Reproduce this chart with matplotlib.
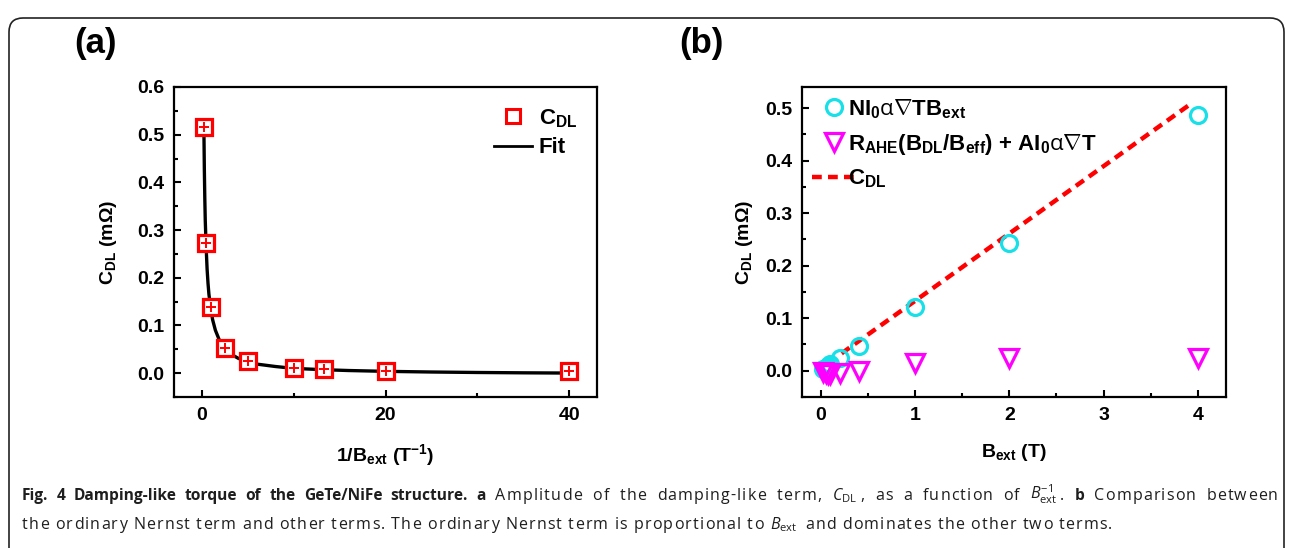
import matplotlib
matplotlib.use('Agg')
import matplotlib.pyplot as plt
from matplotlib.patches import FancyBboxPatch
from matplotlib.transforms import IdentityTransform
from matplotlib.ticker import MultipleLocator

# panel (a): C_DL against 1/B_ext
inv_b = [0.25, 0.5, 1, 2.5, 5, 10, 13.33, 20, 40]
c_dl = [0.517, 0.272, 0.139, 0.053, 0.025, 0.011, 0.008, 0.004, 0.005]
fit_x = [0.25, 0.3, 0.35, 0.4, 0.5, 0.6, 0.7, 0.8, 1.0, 1.2, 1.5, 2.0, 2.5,
         3.0, 4.0, 5.0, 6.0, 8.0, 10, 13.3, 16, 20, 25, 30, 35, 40]
fit_y = [0.513, 0.427, 0.366, 0.320, 0.262, 0.218, 0.188, 0.165, 0.135, 0.112,
         0.090, 0.066, 0.052, 0.042, 0.031, 0.024, 0.019, 0.014, 0.010, 0.0072,
         0.0055, 0.0038, 0.0024, 0.0014, 0.0007, 0.0002]

# panel (b): terms against B_ext
b_ext = [0.025, 0.05, 0.075, 0.1, 0.2, 0.4, 1, 2, 4]
nernst = [0.003, 0.006, 0.009, 0.013, 0.025, 0.048, 0.121, 0.244, 0.487]
other = [-0.002, -0.005, -0.007, -0.006, -0.004, 0.0, 0.014, 0.024, 0.024]
cdl_x = [0.22, 3.95]
cdl_y = [0.033, 0.511]

plt.rcParams['font.family'] = ['Liberation Sans', 'DejaVu Sans']
plt.rcParams['font.weight'] = 'bold'
plt.rcParams['axes.labelweight'] = 'bold'
plt.rcParams['mathtext.fontset'] = 'custom'
plt.rcParams['mathtext.bf'] = 'Liberation Sans:bold'
plt.rcParams['mathtext.rm'] = 'Open Sans:weight=normal'
plt.rcParams['mathtext.it'] = 'Open Sans:style=italic:weight=normal'

fig = plt.figure(figsize=(12.92, 5.48), dpi=100)
W, H = 1292, 548

border = FancyBboxPatch((9, -40), 1275, 548 - 9 + 40 - 9,
                        boxstyle='round,pad=0,rounding_size=14',
                        transform=IdentityTransform(), fill=False,
                        edgecolor='#222222', linewidth=1.2)
fig.add_artist(border)

axa = fig.add_axes([174 / W, 1 - 397 / H, 423 / W, 310 / H])
axb = fig.add_axes([802 / W, 1 - 397 / H, 424 / W, 310 / H])

red = '#FF0000'
axa.plot(fit_x, fit_y, color='black', lw=2.4, zorder=2)
axa.plot(inv_b, c_dl, ls='none', marker='s', ms=11, mfc='white', mec=red,
         mew=2.3, zorder=3)
axa.plot(inv_b, c_dl, ls='none', marker='+', ms=6.5, mec=red, mew=1.4, zorder=4)
sq, = axa.plot([], [], ls='none', marker='s', ms=10, mfc='none', mec=red, mew=2.2)
ln, = axa.plot([], [], color='black', lw=2.0)
axa.legend([sq, ln], [r'C$_\mathbf{DL}$', 'Fit'], loc='upper right',
           frameon=False, fontsize=16, handlelength=1.7, handletextpad=0.3,
           labelspacing=0.35, borderaxespad=0.5)
axa.set_xlim(-3, 43)
axa.set_ylim(-0.05, 0.6)
axa.xaxis.set_major_locator(MultipleLocator(20))
axa.xaxis.set_minor_locator(MultipleLocator(10))
axa.yaxis.set_major_locator(MultipleLocator(0.1))
axa.yaxis.set_minor_locator(MultipleLocator(0.05))
axa.yaxis.set_major_formatter(plt.FormatStrFormatter('%.1f'))
axa.set_xlabel(r'1/B$_\mathbf{ext}$ (T$^\mathbf{-1}$)', fontsize=14, labelpad=13)
axa.set_ylabel(r'C$_\mathbf{DL}$ (m$\mathbf{\Omega}$)', fontsize=14, labelpad=13)

axb.plot(cdl_x, cdl_y, color=red, ls=(0, (2.2, 1.4)), lw=3.2, zorder=2,
         label=r'C$_\mathbf{DL}$')
axb.plot(b_ext, nernst, ls='none', marker='o', ms=11.5, mfc='none', mec='#18E0E8',
         mew=2.3, zorder=3,
         label=r'NI$_\mathbf{0}\mathrm{\alpha\nabla}$TB$_\mathbf{ext}$')
axb.plot(b_ext, other, ls='none', marker='v', ms=13, mfc='none', mec='#FF00FF',
         mew=2.3, zorder=3,
         label=r'R$_\mathbf{AHE}$(B$_\mathbf{DL}$/B$_\mathbf{eff}$) + AI$_\mathbf{0}\mathrm{\alpha\nabla}$T')
h, l = axb.get_legend_handles_labels()
axb.legend([h[1], h[2], h[0]], [l[1], l[2], l[0]], loc='upper left',
           frameon=False, fontsize=16, handlelength=2.0, handletextpad=-0.4,
           labelspacing=0.5, borderaxespad=0.05)
axb.set_xlim(-0.2, 4.3)
axb.set_ylim(-0.05, 0.54)
axb.xaxis.set_major_locator(MultipleLocator(1))
axb.xaxis.set_minor_locator(MultipleLocator(0.5))
axb.yaxis.set_major_locator(MultipleLocator(0.1))
axb.yaxis.set_minor_locator(MultipleLocator(0.05))
axb.yaxis.set_major_formatter(plt.FormatStrFormatter('%.1f'))
axb.set_xlabel(r'B$_\mathbf{ext}$ (T)', fontsize=14, labelpad=13)
axb.set_ylabel(r'C$_\mathbf{DL}$ (m$\mathbf{\Omega}$)', fontsize=14, labelpad=7)

for ax in (axa, axb):
    for s in ax.spines.values():
        s.set_linewidth(1.6)
    ax.tick_params(which='both', direction='in', width=1.5, labelsize=14,
                   top=False, right=False, pad=7)
    ax.tick_params(which='major', length=5)
    ax.tick_params(which='minor', length=3)

fig.text(74 / W, 1 - 53 / H, '(a)', fontsize=25, fontweight='bold')
fig.text(679 / W, 1 - 53 / H, '(b)', fontsize=25, fontweight='bold')

# caption: bold runs set as whole strings, plain text slightly letter-spaced
cap_font = ['Open Sans', 'DejaVu Sans']
renderer = fig.canvas.get_renderer()
SIZE = {'bold': 11.2, 'normal': 11.5}
TRACK = {'bold': 0.0, 'normal': 1.15}
_adv = {}


def text_w(s, wt):
    t = fig.text(0, 0, s, fontsize=SIZE[wt], fontweight=wt, family=cap_font)
    w = t.get_window_extent(renderer).width
    t.remove()
    return w


def advance(s, wt):
    if (s, wt) not in _adv:
        _adv[(s, wt)] = text_w('H' + s + 'H', wt) - text_w('HH', wt)
    return _adv[(s, wt)]


def tokens(pieces):
    out = []
    for txt, wt in pieces:
        if txt.startswith('$'):
            out.append((txt, wt, text_w(txt, wt) + 2.5))
        elif wt == 'bold':
            for i, word in enumerate(txt.split(' ')):
                if i:
                    out.append((' ', wt, advance(' ', wt)))
                if word:
                    out.append((word, wt, advance(word, wt)))
        else:
            for c in txt:
                out.append((c, wt, advance(c, wt) + TRACK[wt]))
    return out


def put_line(pieces, x0, y0, x1=None):
    toks = tokens(pieces)
    extra = 0.0
    if x1 is not None:
        n_sp = sum(1 for s, _, _ in toks if s == ' ')
        total = sum(a for _, _, a in toks)
        extra = max(0.0, (x1 - x0 - total) / n_sp)
    x = x0
    for s, wt, a in toks:
        if s == ' ':
            x += a + extra
            continue
        fig.text(x / W, 1 - y0 / H, s, fontsize=SIZE[wt], fontweight=wt,
                 family=cap_font, va='baseline', ha='left', color='#1e1e1e')
        x += a


put_line([('Fig. 4 Damping-like torque of the GeTe/NiFe structure. a', 'bold'),
          (' Amplitude of the damping-like term, ', 'normal'),
          (r'$C_{\rm DL}$', 'normal'),
          (', as a function of ', 'normal'),
          (r'$B_{\rm ext}^{-1}$', 'normal'),
          ('. ', 'normal'),
          ('b', 'bold'),
          (' Comparison between', 'normal')], 22, 500, x1=1279)
put_line([('the ordinary Nernst term and other terms. The ordinary Nernst term is proportional to ', 'normal'),
          (r'$B_{\rm ext}$', 'normal'),
          (' and dominates the other two terms.', 'normal')], 22, 529)

fig.savefig('out.png', dpi=100)
